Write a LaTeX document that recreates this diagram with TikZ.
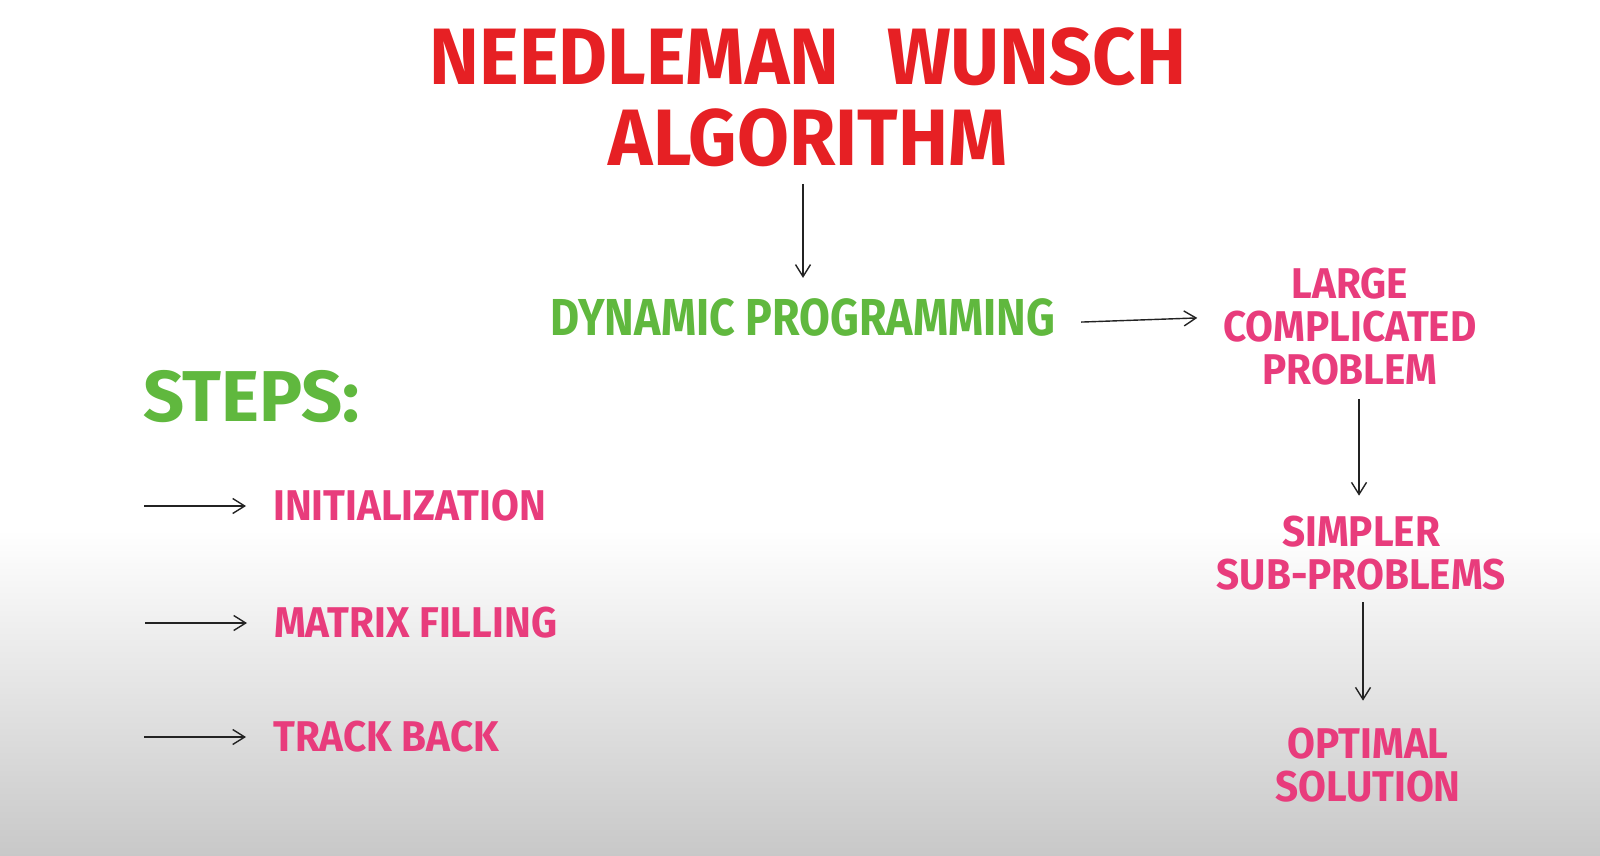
\documentclass[tikz,border=0pt]{standalone}
\usepackage{fontspec}
\usepackage{tikz}
\usetikzlibrary{
  arrows.meta,
  positioning,
  calc
}
\newfontfamily\markerfont{Fira Sans}[FakeStretch=0.94]
\newfontfamily\narrowfont{Fira Sans}[FakeStretch=0.86]
\newfontfamily\widefont{Fira Sans}[FakeStretch=1.0]
\definecolor{TitleRed}{RGB}{230,32,36}
\definecolor{LeafGreen}{RGB}{96,184,62}
\definecolor{MarkerPink}{RGB}{232,60,124}
\definecolor{PenBlack}{RGB}{35,35,35}
\definecolor{BoardGray}{RGB}{200,200,200}
\tikzset{
  titlenode/.style={text=TitleRed,inner sep=0pt,align=center,font=\markerfont\bfseries\fontsize{80}{81}\selectfont},
  greennode/.style={text=LeafGreen,inner sep=0pt,font=\narrowfont\bfseries\fontsize{52}{52}\selectfont},
  pinknode/.style={text=MarkerPink,inner sep=0pt,align=center,font=\markerfont\bfseries\fontsize{43}{43}\selectfont},
  flow/.style={-{Straight Barb[length=12pt,width=15pt]},line width=1.4pt,draw=PenBlack}
}
\begin{document}
\begin{tikzpicture}[x=1pt,y=-1pt]
\useasboundingbox (0,0) rectangle (1600,856);
\fill[white] (0,0) rectangle (1600,530);
\shade[top color=white,bottom color=BoardGray] (0,530) rectangle (1600,856);
% title and main chain
\node[titlenode] (title) at (808,97) {NEEDLEMAN\hspace{0.6em}WUNSCH\\ALGORITHM};
\node[greennode] (dp) at (803,317) {DYNAMIC PROGRAMMING};
\node[pinknode] (large) at (1350,327) {LARGE\\COMPLICATED\\PROBLEM};
\node[pinknode] (simpler) at (1361,553) {SIMPLER\\SUB-PROBLEMS};
\node[pinknode] (optimal) at (1368,765) {OPTIMAL\\SOLUTION};
\draw[flow,shorten <=17pt,shorten >=20pt] (dp.north |- title.south) -- (dp.north);
\draw[flow,shorten <=26pt,shorten >=26pt] ([yshift=-6pt]dp.east) -- (dp.east -| large.west);
\draw[flow,shorten <=13pt,shorten >=20pt] ([xshift=9pt]large.south) -- ([xshift=9pt]large.south |- simpler.north);
\draw[flow,shorten <=12pt,shorten >=27pt] ([xshift=2pt]simpler.south) -- ([xshift=2pt]simpler.south |- optimal.north);
% steps
\node[greennode,anchor=west,font=\widefont\bfseries\fontsize{72}{72}\selectfont] (steps) at (143,397) {STEPS:};
\node[pinknode,anchor=west] (init) at (273,506) {INITIALIZATION};
\node[pinknode,anchor=west] (fill) at (274,623) {MATRIX FILLING};
\node[pinknode,anchor=west] (back) at (273,737) {TRACK BACK};
\foreach \s in {init,fill,back}
  \draw[flow,shorten >=27pt] ([xshift=-129pt]\s.west) -- (\s.west);
\end{tikzpicture}
\end{document}
